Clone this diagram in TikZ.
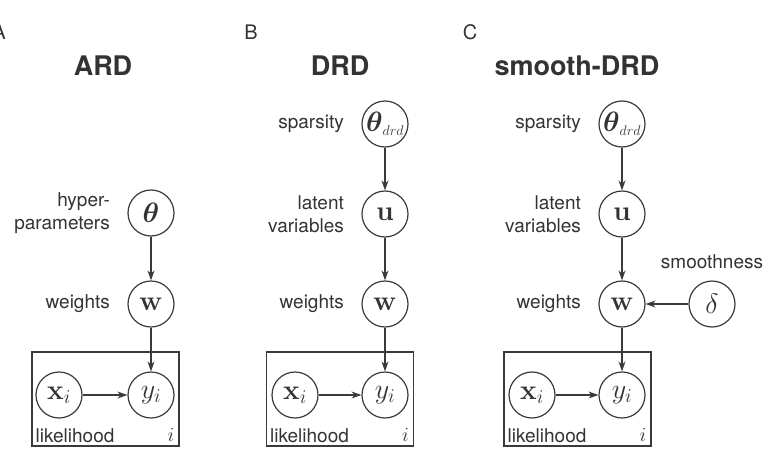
\documentclass[tikz,border=0pt]{standalone}
\usepackage{fix-cm}
\usepackage{amsmath}
\usepackage[no-math]{fontspec}
\newfontfamily\heros{TeX Gyre Heros}
\usetikzlibrary{arrows.meta, positioning}
\definecolor{ink}{HTML}{333333}
\definecolor{wire}{HTML}{3A3A3A}

\begin{document}
\begin{tikzpicture}[
  x=1pt, y=-1pt,
  >={Stealth[length=10pt, width=7pt]},
  var/.style={
    draw=wire, circle, line width=1.2pt, minimum size=46pt, inner sep=0pt,
    text=ink, font=\fontsize{28}{32}\selectfont
  },
  plate/.style={
    draw=wire, line width=1.2pt, minimum width=147pt, minimum height=94pt,
    inner sep=0pt
  },
  arr/.style={->, line width=1.2pt, wire},
  lbl/.style={font=\heros\fontsize{19}{23}\selectfont, text=ink, align=right},
  ttl/.style={font=\heros\bfseries\fontsize{27}{32}\selectfont, text=ink},
  tag/.style={font=\heros\fontsize{20}{24}\selectfont, text=ink},
  idx/.style={anchor=south east, inner sep=5pt, text=ink, font=\fontsize{20}{22}\selectfont},
]

\useasboundingbox (0,0) rectangle (770,452);

% =============================================
% Panel A: ARD
% =============================================
\node[tag] (tagA) at (-1,32) {A};
\node[ttl] (ttlA) at (103,66) {ARD};

\node[var] (thetaA) at (151,213) {$\boldsymbol{\theta}$};
\node[var] (wA)     at (151,304) {$\mathbf{w}$};
\node[var] (xA)     at (59,395)  {$\mathbf{x}_i$};
\node[var] (yA)     at (151,395) {$y_i$};
\node[plate] (plateA) at (105.5,399) {};

\node[lbl, left=14pt of thetaA] {hyper-\\parameters};
\node[lbl, left=14pt of wA] {weights};
\node[lbl, anchor=south west, inner sep=4pt] at (plateA.south west) {likelihood};
\node[idx] at (plateA.south east) {$i$};

\draw[arr] (thetaA) -- (wA);
\draw[arr] (wA) -- (yA);
\draw[arr] (xA) -- (yA);

% =============================================
% Panel B: DRD
% =============================================
\node[tag] (tagB) at (251,32) {B};
\node[ttl] (ttlB) at (340,66) {DRD};

\node[var] (thetaB) at (385,124) {$\boldsymbol{\theta}_{\scriptscriptstyle drd}$};
\node[var] (uB)     at (385,214) {$\mathbf{u}$};
\node[var] (wB)     at (385,304) {$\mathbf{w}$};
\node[var] (xB)     at (295,395) {$\mathbf{x}_i$};
\node[var] (yB)     at (385,395) {$y_i$};
\node[plate] (plateB) at (340,399) {};

\node[lbl, left=14pt of thetaB] {sparsity};
\node[lbl, left=14pt of uB] {latent\\variables};
\node[lbl, left=14pt of wB] {weights};
\node[lbl, anchor=south west, inner sep=4pt] at (plateB.south west) {likelihood};
\node[idx] at (plateB.south east) {$i$};

\draw[arr] (thetaB) -- (uB);
\draw[arr] (uB) -- (wB);
\draw[arr] (wB) -- (yB);
\draw[arr] (xB) -- (yB);

% =============================================
% Panel C: smooth-DRD
% =============================================
\node[tag] (tagC) at (470,32) {C};
\node[ttl] (ttlC) at (577,66) {smooth-DRD};

\node[var] (thetaC) at (622,124) {$\boldsymbol{\theta}_{\scriptscriptstyle drd}$};
\node[var] (uC)     at (622,214) {$\mathbf{u}$};
\node[var] (wC)     at (622,304) {$\mathbf{w}$};
\node[var] (deltaC) at (712,304) {$\delta$};
\node[var] (xC)     at (532,395) {$\mathbf{x}_i$};
\node[var] (yC)     at (622,395) {$y_i$};
\node[plate] (plateC) at (577.5,399) {};

\node[lbl, left=14pt of thetaC] {sparsity};
\node[lbl, left=14pt of uC] {latent\\variables};
\node[lbl, left=14pt of wC] {weights};
\node[lbl, above=8pt of deltaC] {smoothness};
\node[lbl, anchor=south west, inner sep=4pt] at (plateC.south west) {likelihood};
\node[idx] at (plateC.south east) {$i$};

\draw[arr] (thetaC) -- (uC);
\draw[arr] (uC) -- (wC);
\draw[arr] (deltaC) -- (wC);
\draw[arr] (wC) -- (yC);
\draw[arr] (xC) -- (yC);

\end{tikzpicture}
\end{document}
